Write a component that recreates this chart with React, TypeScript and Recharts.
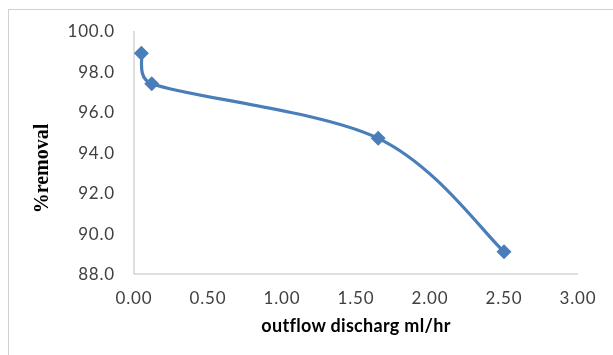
import { LineChart, Line, XAxis, YAxis, Label } from "recharts"

const discharge = [0.05, 0.12, 1.65, 2.5]
const removal = [98.9, 97.4, 94.7, 89.1]
const xTicks = [0, 0.5, 1, 1.5, 2, 2.5, 3]
const yTicks = [88, 90, 92, 94, 96, 98, 100]

const data = discharge.map((x, i) => ({ x, y: removal[i] }))

const BLUE = "#4a7ebb"
const AXIS = "#bfbfbf"
const TICK_FONT = "Lato, Calibri, sans-serif"

// Excel-style smoothed line: cubic bezier with 1/6 neighbour tangents,
// clamped so short segments don't loop
// eslint-disable-next-line @typescript-eslint/no-explicit-any
function excelSmooth(context: any) {
  let pts: [number, number][] = []
  const clamp = (dx: number, dy: number, max: number): [number, number] => {
    const len = Math.hypot(dx, dy)
    if (len <= max || len === 0) return [dx, dy]
    return [(dx / len) * max, (dy / len) * max]
  }
  return {
    areaStart() {},
    areaEnd() {},
    lineStart() {
      pts = []
    },
    point(x: number, y: number) {
      pts.push([+x, +y])
    },
    lineEnd() {
      if (!pts.length) return
      context.moveTo(pts[0][0], pts[0][1])
      for (let i = 0; i < pts.length - 1; i++) {
        const p0 = pts[Math.max(i - 1, 0)]
        const p1 = pts[i]
        const p2 = pts[i + 1]
        const p3 = pts[Math.min(i + 2, pts.length - 1)]
        const seg = Math.hypot(p2[0] - p1[0], p2[1] - p1[1])
        const a = clamp((p2[0] - p0[0]) / 6, (p2[1] - p0[1]) / 6, seg / 2)
        const b = clamp((p3[0] - p1[0]) / 6, (p3[1] - p1[1]) / 6, seg / 2)
        context.bezierCurveTo(
          p1[0] + a[0],
          p1[1] + a[1],
          p2[0] - b[0],
          p2[1] - b[1],
          p2[0],
          p2[1]
        )
      }
    },
  }
}

// eslint-disable-next-line @typescript-eslint/no-explicit-any
function Diamond(props: any) {
  const { cx, cy, index } = props
  const r = 7.5
  return (
    <polygon
      key={index}
      points={`${cx},${cy - r} ${cx + r},${cy} ${cx},${cy + r} ${cx - r},${cy}`}
      fill={BLUE}
    />
  )
}

// eslint-disable-next-line @typescript-eslint/no-explicit-any
function YTitle({ viewBox }: any) {
  const x = viewBox.x + 41
  const y = viewBox.y + viewBox.height / 2 + 16
  return (
    <text
      x={x}
      y={y}
      transform={`rotate(-90, ${x}, ${y})`}
      textAnchor="middle"
      dominantBaseline="central"
      fontFamily="'Liberation Serif', 'Times New Roman', serif"
      fontWeight="bold"
      fontSize={20}
      fill="#000"
    >
      %removal
    </text>
  )
}

// eslint-disable-next-line @typescript-eslint/no-explicit-any
function XTitle({ viewBox }: any) {
  return (
    <text
      x={viewBox.x + viewBox.width / 2}
      y={viewBox.y + 51}
      textAnchor="middle"
      dominantBaseline="central"
      fontFamily={TICK_FONT}
      fontWeight="bold"
      fontSize={18}
      letterSpacing={0.3}
      fill="#000"
    >
      outflow discharg ml/hr
    </text>
  )
}

const tickStyle = {
  fontSize: 17,
  fill: "#404040",
  fontFamily: TICK_FONT,
  letterSpacing: 0.8,
}

export default function App() {
  return (
    <>
      <div
        style={{
          position: "fixed",
          left: 8,
          top: 9,
          width: 700,
          height: 400,
          borderLeft: "1px solid #d0d0d0",
          borderTop: "1px solid #d0d0d0",
        }}
      />
      <div style={{ position: "fixed", left: 0, top: 0 }}>
        <LineChart
          width={613}
          height={355}
          data={data}
          margin={{ top: 31, right: 35, bottom: 0, left: 0 }}
        >
          <XAxis
            type="number"
            dataKey="x"
            domain={[0, 3]}
            ticks={xTicks}
            tickFormatter={(v) => v.toFixed(2)}
            axisLine={{ stroke: AXIS }}
            tickLine={false}
            tickSize={0}
            tickMargin={18}
            height={81}
            tick={tickStyle}
            interval={0}
          >
            <Label content={<XTitle />} />
          </XAxis>
          <YAxis
            type="number"
            domain={[88, 100]}
            ticks={yTicks}
            tickFormatter={(v) => v.toFixed(1)}
            axisLine={{ stroke: AXIS }}
            tickLine={false}
            tickSize={0}
            tickMargin={19}
            width={134}
            tick={tickStyle}
            interval={0}
          >
            <Label content={<YTitle />} />
          </YAxis>
          <Line
            dataKey="y"
            type={excelSmooth as any}
            stroke={BLUE}
            strokeWidth={3.2}
            dot={<Diamond />}
            activeDot={false}
            isAnimationActive={false}
          />
        </LineChart>
      </div>
    </>
  )
}
